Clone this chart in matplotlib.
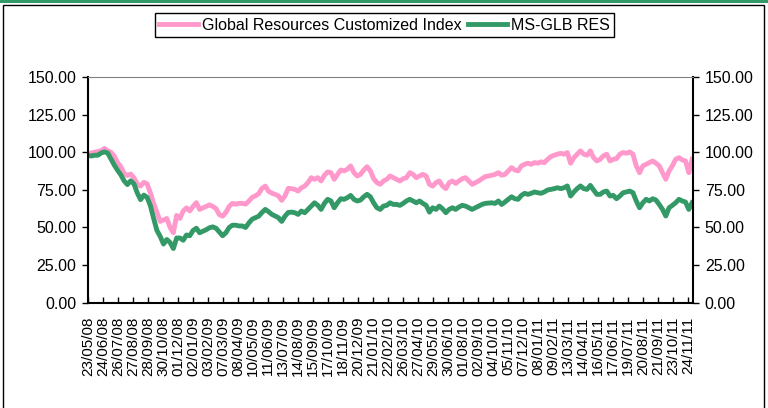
import matplotlib
matplotlib.use('Agg')
import matplotlib.pyplot as plt
from matplotlib.patches import Rectangle
import pandas as pd

plt.rcParams['font.family'] = ['Liberation Sans', 'DejaVu Sans']

# weekly readings taken off the chart, starting 23/05/08
start_date = '2008-05-23'

pink_vals = [
    99, 99.5, 100, 100.5, 101, 102.5, 101, 100, 97.5, 93,
    90.5, 86, 84.5, 85.5, 83, 79, 77.5, 80, 79, 73,
    66, 60, 54, 55, 56, 50, 46.5, 58, 56, 61,
    63, 61, 64, 66.5, 62, 63, 64, 65, 64, 62.5,
    58.5, 57.5, 60, 64, 66, 65.5, 66, 66, 65.5, 67.5,
    70, 71, 72.5, 76, 77.5, 74, 72.8, 72, 71, 68,
    71, 76,
    75.8, 75.3, 74.2, 76.4, 77.5, 79.8, 83.1, 82, 83.1, 80.9,
    84.7, 86.9, 86.4, 82, 85.3, 88.2, 87.6, 88.7, 90.9, 86.4,
    84.2, 85.3, 88.2, 90.4, 87.6, 82.4, 79.8, 78.7, 80.9, 82,
    84.2, 83.1, 82, 80.9, 82.4, 83.1, 86.4, 85.3, 83.1, 84.2,
    85.3, 84.2, 78.7, 77.5, 79.8, 80.9, 77.5, 75.8, 79.8, 80.9,
    79.3, 80.9, 82.4, 83.1, 80.9, 78.7, 79.8, 80.9, 82.4, 83.8,
    84.2,
    84.7, 85.3, 86.4, 84.7, 85.3, 87.6, 89.8, 88.2, 87.6, 90.9,
    92, 92.7, 92, 93.1, 92.7, 93.6, 93.1, 95.3, 97.1, 98,
    98.7, 99.3, 98.7, 99.8, 92.7, 96.4, 98.7, 100.9, 98.7, 98,
    100.9, 96.4, 94.2, 95.3, 97.6, 98.7, 94.2, 95.3, 95.8, 98.7,
    99.8, 99.3, 100.2, 98.7, 90.9, 86.4, 90.9, 92, 93.1, 94.2,
    92.7, 90.9, 86.4, 82, 87.6, 90.9, 95.3, 96.4, 94.9, 94.2,
    86.4, 95.3,
]

green_vals = [
    97.8, 97.5, 98, 98, 99.5, 100.2, 99.5, 95.5, 91.5, 88,
    85, 81, 78.5, 81, 79, 73, 68.5, 71.5, 70, 64.5,
    56, 48, 44, 39, 42, 40, 36, 43, 43, 41.5,
    45, 44.5, 48, 49.5, 46.5, 47.5, 48.5, 49.8, 50.4, 49.5,
    47, 44.5, 46.5, 50, 51.5, 51.5, 51, 51, 50, 53,
    55.5, 56.5, 57.5, 60, 62, 60.5, 58.7, 57.6, 56.5, 54,
    57.5, 60,
    60.2, 59.8, 58.7, 60.9, 59.8, 62, 64.2, 66.4, 64.7, 62,
    66, 68.7, 67.6, 63.1, 66.4, 69.1, 68.7, 69.8, 71.3, 68.7,
    67.6, 68.2, 70.4, 72, 70.4, 66.4, 63.1, 62, 64.2, 64.7,
    66.4, 65.3, 65.3, 64.7, 66, 67.6, 68.7, 67.6, 66.4, 67.6,
    66, 64.7, 60.2, 63.1, 62, 64.2, 62.4, 59.8, 62, 63.1,
    62, 63.6, 64.7, 64.2, 63.1, 62, 63.1, 64.2, 65.3, 66,
    66.2,
    66.4, 66, 67.6, 65.3, 66.9, 68.7, 70.4, 69.1, 68.7, 71.3,
    72.7, 72, 72.7, 73.6, 73.1, 72.7, 73.6, 74.9, 75.3, 75.8,
    76.4, 75.8, 76.4, 77.6, 70.9, 73.6, 75.8, 77.6, 75.8, 75.3,
    78, 74.9, 72, 72, 73.6, 74.2, 70.9, 71.3, 69.1, 70.9,
    73.1, 73.6, 74.2, 73.1, 67.6, 63.1, 66.4, 68.7, 67.6, 69.1,
    68.2, 65.3, 62, 57.6, 63.1, 64.7, 66.4, 68.7, 67.6, 66.9,
    62, 66.4,
]

tick_labels = [
    '23/05/08', '24/06/08', '26/07/08', '27/08/08', '28/09/08', '30/10/08',
    '01/12/08', '02/01/09', '03/02/09', '07/03/09', '08/04/09', '10/05/09',
    '11/06/09', '13/07/09', '14/08/09', '15/09/09', '17/10/09', '18/11/09',
    '20/12/09', '21/01/10', '22/02/10', '26/03/10', '27/04/10', '29/05/10',
    '30/06/10', '01/08/10', '02/09/10', '04/10/10', '05/11/10', '07/12/10',
    '08/01/11', '09/02/11', '13/03/11', '14/04/11', '16/05/11', '17/06/11',
    '19/07/11', '20/08/11', '21/09/11', '23/10/11', '24/11/11',
]
y_ticks = [0, 25, 50, 75, 100, 125, 150]

pink = '#FF99CC'
green = '#339966'

dates = pd.date_range(start_date, periods=len(pink_vals), freq='7D')
tick_dates = pd.to_datetime(tick_labels, format='%d/%m/%y')

fig = plt.figure(figsize=(7.68, 4.08), dpi=100)
ax = fig.add_axes([88 / 768, 1 - 302.7 / 408, 605 / 768, 225.7 / 408])

ax.plot(dates, pink_vals, color=pink, lw=3.5, label='Global Resources Customized Index',
        solid_joinstyle='round')
ax.plot(dates, green_vals, color=green, lw=3.5, label='MS-GLB RES',
        solid_joinstyle='round')

ax.set_xlim(pd.Timestamp(start_date), pd.Timestamp('2011-12-04'))
ax.set_ylim(0, 150)
ax.set_yticks(y_ticks)
ax.set_yticklabels(['%.2f' % v for v in y_ticks])
ax.set_xticks(tick_dates)
ax.set_xticklabels(tick_labels, rotation=90, fontsize=11)
ax.tick_params(axis='x', direction='in', length=4, width=1, pad=10)
ax.tick_params(axis='y', direction='out', length=4.5, width=1, labelsize=11.5, pad=4,
               right=True, labelright=True)

for s in ['left', 'right', 'bottom']:
    ax.spines[s].set_linewidth(1.5)
    ax.spines[s].set_color('black')
ax.spines['top'].set_color('#808080')
ax.spines['top'].set_linewidth(0.8)

fig.legend(loc='center', bbox_to_anchor=(384.5 / 768, 1 - 25 / 408), ncol=2,
           fontsize=11.5, frameon=True, fancybox=False, edgecolor='black',
           framealpha=1, handlelength=2.4, handletextpad=0.25, columnspacing=0.45,
           borderpad=0.3, borderaxespad=0)

# frame of the whole chart and green strip at the top
fig.add_artist(Rectangle((3 / 768, -0.05), 761 / 768, 1.05 - 5 / 408,
                         transform=fig.transFigure, fill=False, ec='black', lw=1))
fig.add_artist(Rectangle((0, 1 - 3 / 408), 1, 3 / 408, transform=fig.transFigure,
                         fc=green, ec='none'))

fig.savefig('out.png', dpi=100)
